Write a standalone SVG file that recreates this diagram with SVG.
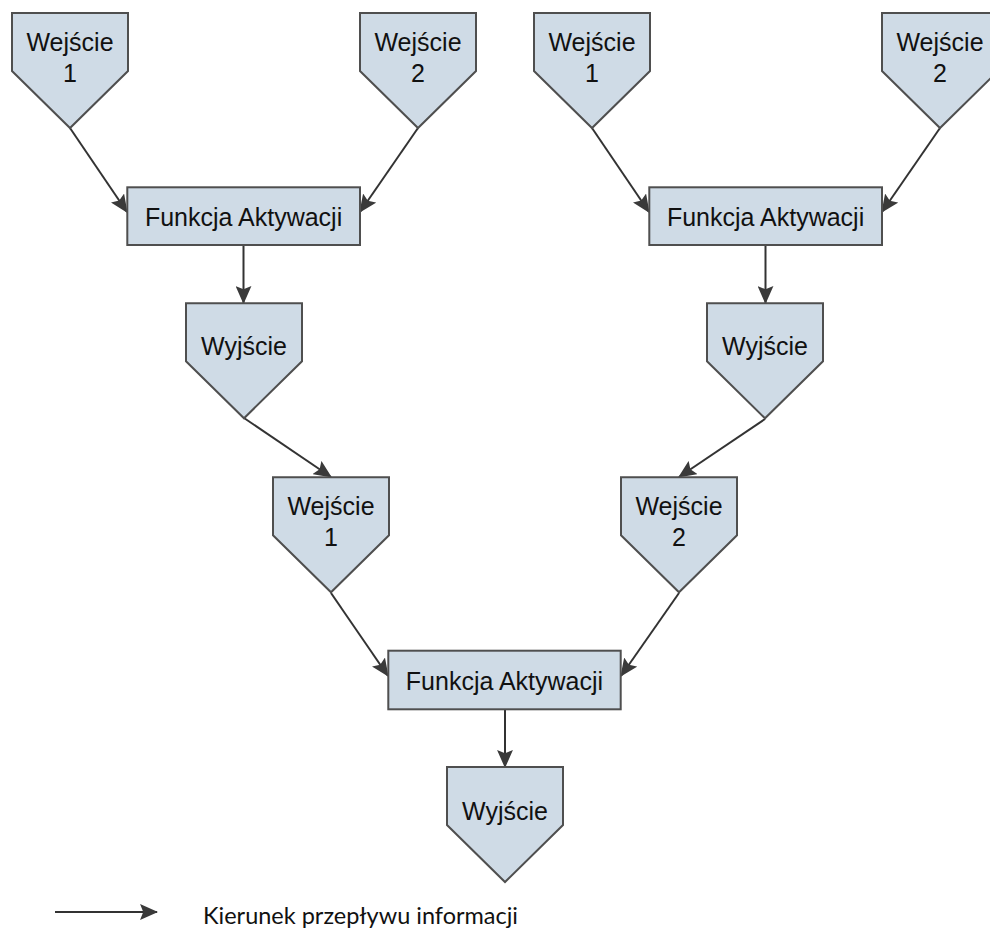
<svg xmlns="http://www.w3.org/2000/svg" xmlns:xlink="http://www.w3.org/1999/xlink" width="990" height="928" viewBox="0 0 990 928">
  <style>
    .shape { fill: #cfdbe6; stroke: #4f4f4f; stroke-width: 2; }
    .label { font-family: "Liberation Sans", Arial, sans-serif; font-size: 25px; fill: #111; text-anchor: middle; }
    .edge { stroke: #333; stroke-width: 2; fill: none; marker-end: url(#arrow); }
    .legend { font-family: Lato, "Open Sans", sans-serif; font-size: 24px; fill: #111; }
  </style>
  <defs>
    <!-- pentagon "off-page" shape, origin at top centre -->
    <path id="penta" d="M-58,0 H58 V58 L0,115 L-58,58 Z"/>
    <marker id="arrow" markerUnits="userSpaceOnUse" markerWidth="18" markerHeight="16" viewBox="0 0 17 15" refX="16" refY="7.5" orient="auto">
      <path d="M0,0 L17,7.5 L0,15 L3,7.5 Z" fill="#3a3a3a"/>
    </marker>
  </defs>

  <!-- connectors -->
  <g id="connectors">
    <line class="edge" x1="70" y1="128" x2="127" y2="212"/>
    <line class="edge" x1="418" y1="128" x2="360" y2="212"/>
    <line class="edge" x1="243.5" y1="245" x2="243.5" y2="303"/>
    <line class="edge" x1="592" y1="128" x2="649" y2="212"/>
    <line class="edge" x1="940" y1="128" x2="882" y2="212"/>
    <line class="edge" x1="765.5" y1="245" x2="765.5" y2="303"/>
    <line class="edge" x1="244" y1="418" x2="331" y2="477"/>
    <line class="edge" x1="765" y1="419" x2="679" y2="477"/>
    <line class="edge" x1="331" y1="593" x2="388" y2="676"/>
    <line class="edge" x1="679" y1="593" x2="621" y2="676"/>
    <line class="edge" x1="505" y1="709" x2="505" y2="767"/>
  </g>

  <!-- left upper tree -->
  <g id="in1-left" transform="translate(70,13)">
    <use xlink:href="#penta" class="shape"/>
    <text class="label" x="0" y="37.5">Wejście</text>
    <text class="label" x="0" y="68.5">1</text>
  </g>
  <g id="in2-left" transform="translate(418,13)">
    <use xlink:href="#penta" class="shape"/>
    <text class="label" x="0" y="37.5">Wejście</text>
    <text class="label" x="0" y="68.5">2</text>
  </g>
  <g id="act-left">
    <rect class="shape" x="127.3" y="187.3" width="232.7" height="57.7"/>
    <text class="label" x="243.6" y="225.5">Funkcja Aktywacji</text>
  </g>
  <g id="out-left" transform="translate(244,303.3)">
    <use xlink:href="#penta" class="shape"/>
    <text class="label" x="0" y="52">Wyjście</text>
  </g>

  <!-- right upper tree -->
  <g id="in1-right" transform="translate(592,13)">
    <use xlink:href="#penta" class="shape"/>
    <text class="label" x="0" y="37.5">Wejście</text>
    <text class="label" x="0" y="68.5">1</text>
  </g>
  <g id="in2-right" transform="translate(940,13)">
    <use xlink:href="#penta" class="shape"/>
    <text class="label" x="0" y="37.5">Wejście</text>
    <text class="label" x="0" y="68.5">2</text>
  </g>
  <g id="act-right">
    <rect class="shape" x="649.3" y="187.3" width="232.7" height="57.7"/>
    <text class="label" x="765.6" y="225.5">Funkcja Aktywacji</text>
  </g>
  <g id="out-right" transform="translate(765,303.3)">
    <use xlink:href="#penta" class="shape"/>
    <text class="label" x="0" y="52">Wyjście</text>
  </g>

  <!-- lower tree -->
  <g id="in1-bottom" transform="translate(331,477.3)">
    <use xlink:href="#penta" class="shape"/>
    <text class="label" x="0" y="37.5">Wejście</text>
    <text class="label" x="0" y="68.5">1</text>
  </g>
  <g id="in2-bottom" transform="translate(679,477.3)">
    <use xlink:href="#penta" class="shape"/>
    <text class="label" x="0" y="37.5">Wejście</text>
    <text class="label" x="0" y="68.5">2</text>
  </g>
  <g id="act-bottom">
    <rect class="shape" x="388.3" y="650.7" width="232.4" height="58.6"/>
    <text class="label" x="504.5" y="690">Funkcja Aktywacji</text>
  </g>
  <g id="out-bottom" transform="translate(505,767)">
    <use xlink:href="#penta" class="shape"/>
    <text class="label" x="0" y="52.5">Wyjście</text>
  </g>

  <!-- legend -->
  <g id="legend">
    <line x1="55" y1="912" x2="157" y2="912" stroke="#333" stroke-width="2" marker-end="url(#arrow)"/>
    <text class="legend" x="203" y="924" textLength="315" lengthAdjust="spacingAndGlyphs">Kierunek przepływu informacji</text>
  </g>
</svg>
